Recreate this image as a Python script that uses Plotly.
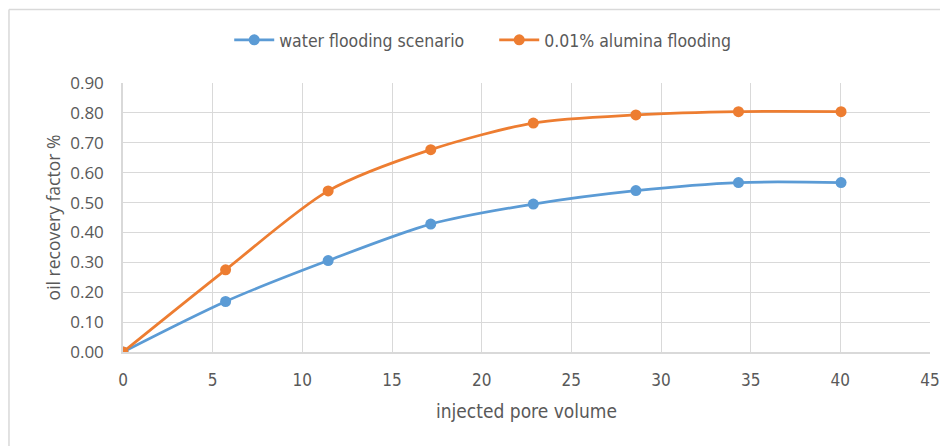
import plotly.graph_objects as go

pore_volume = [0, 5.72, 11.44, 17.16, 22.88, 28.6, 34.32, 40.04]
water_flooding = [0.0, 0.169, 0.306, 0.428, 0.495, 0.540, 0.567, 0.567]
alumina_flooding = [0.0, 0.275, 0.539, 0.677, 0.766, 0.793, 0.804, 0.804]
series_names = ["water flooding scenario", "0.01% alumina flooding"]
x_ticks = [0, 5, 10, 15, 20, 25, 30, 35, 40, 45]
y_ticks = [0.0, 0.1, 0.2, 0.3, 0.4, 0.5, 0.6, 0.7, 0.8, 0.9]

BLUE = "#5B9BD5"
ORANGE = "#ED7D31"
GRID = "#D9D9D9"
TXT = "#595959"
NARROW = "Liberation Sans Narrow, DejaVu Sans Condensed, Roboto, sans-serif"
WIDE = "Open Sans, Noto Sans, sans-serif"

fig = go.Figure()
for name, vals, col in [(series_names[0], water_flooding, BLUE),
                        (series_names[1], alumina_flooding, ORANGE)]:
    fig.add_trace(go.Scatter(
        x=pore_volume, y=vals, name=name, mode="lines+markers",
        line=dict(color=col, width=2.75, shape="spline", smoothing=0.8),
        marker=dict(color=col, size=11),
    ))

fig.update_layout(
    width=940, height=438,
    margin=dict(l=115, r=18, t=75, b=94),
    paper_bgcolor="white", plot_bgcolor="white",
    font=dict(family=NARROW, color=TXT, size=17),
    showlegend=True,
    legend=dict(orientation="h", x=0.46, y=1.16, xanchor="center", yanchor="middle",
                font=dict(family=NARROW, size=17.5, color=TXT), itemwidth=40,
                entrywidth=210, tracegroupgap=0, bgcolor="rgba(0,0,0,0)"),
    xaxis=dict(range=[0, 45], tickvals=x_ticks, ticktext=[str(v) for v in x_ticks],
               showgrid=True, gridcolor=GRID, gridwidth=1,
               showline=True, linecolor=GRID, linewidth=1.5,
               zeroline=False, ticks="outside", ticklen=12, tickcolor="rgba(0,0,0,0)",
               tickfont=dict(family=NARROW, size=17, color=TXT),
               title=dict(text="injected pore volume", standoff=16,
                          font=dict(family=NARROW, size=19, color=TXT)),
               automargin=False, fixedrange=True),
    yaxis=dict(range=[0, 0.9], tickvals=y_ticks, ticktext=[f"{v:.2f}" for v in y_ticks],
               showgrid=True, gridcolor=GRID, gridwidth=1,
               showline=True, linecolor=GRID, linewidth=1.5,
               zeroline=False, ticks="outside", ticklen=14, tickcolor="rgba(0,0,0,0)",
               tickfont=dict(family=WIDE, size=17, color=TXT),
               title=dict(text="oil recovery factor %", standoff=5,
                          font=dict(family=WIDE, size=17.5, color=TXT)),
               automargin=False, fixedrange=True),
    shapes=[
        dict(type="line", xref="paper", yref="paper", x0=-0.1413, x1=1.03,
             y0=1.273, y1=1.273, line=dict(color=GRID, width=1.5)),
        dict(type="line", xref="paper", yref="paper", x0=-0.1413, x1=-0.1413,
             y0=1.273, y1=-0.36, line=dict(color=GRID, width=1.5)),
    ],
)

fig.write_html("out.html")
